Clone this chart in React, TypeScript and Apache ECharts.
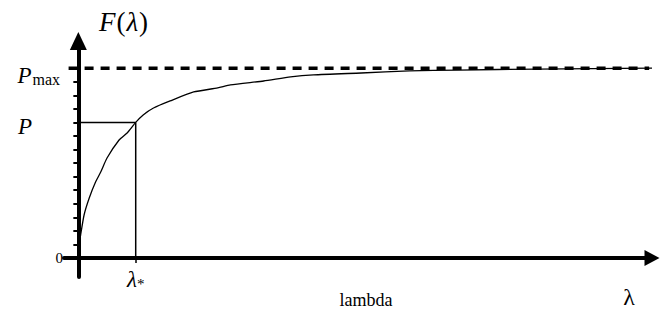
import React, { useEffect, useRef } from "react";
import * as echarts from "echarts";

// ---- data ----
const curveX = [0, 0.04, 0.1, 0.19, 0.3, 0.39, 0.5, 0.71, 0.85, 1.0, 1.13, 1.31, 1.6, 2.01, 2.43, 2.65, 3.23, 3.7, 4.1, 4.93, 5.77, 6.62, 8.0, 10.0];
const curveY = [0.6, 1.7, 3.17, 4.42, 5.6, 6.34, 7.37, 8.7, 9.22, 10.0, 10.55, 11.06, 11.58, 12.24, 12.54, 12.76, 13.05, 13.35, 13.5, 13.64, 13.79, 13.86, 13.93, 14.0];
const P_MAX = 14;
const P_VAL = 10;
const LAMBDA_STAR = 1;
const asymptoteX = [-0.17, 9.95];
const yTickValues = [1, 2, 3, 4, 5, 6, 7, 8, 9, 10, 11, 12, 13, 14];
const yLabelValues = [0, 10, 14];
const xLabelValues = [1];
const X_MIN = -0.25;
const X_MAX = 10;
const Y_MIN = -1.4;
const Y_MAX = 16;
const xAxisName = "lambda";
const yAxisTitle = "F(λ)";
const xEndLabel = "λ";

const SERIF = "'Liberation Serif', 'Times New Roman', serif";

export default function App() {
  const ref = useRef<HTMLDivElement>(null);
  useEffect(() => {
    if (!ref.current) return;
    const chart = echarts.init(ref.current, undefined, { renderer: "svg" });
    const black = "#000";
    chart.setOption({
      animation: false,
      backgroundColor: "#fff",
      grid: { left: 64, right: 8, top: 41, bottom: 37, containLabel: false, outerBoundsMode: "none" },
      xAxis: {
        type: "value",
        min: X_MIN,
        max: X_MAX,
        name: xAxisName,
        nameLocation: "middle",
        nameGap: 14,
        nameMoveOverlap: false,
        nameTextStyle: { fontFamily: SERIF, fontSize: 18, color: black, padding: [0, 0, 0, 16] },
        axisLine: {
          onZero: true,
          symbol: ["none", "triangle"],
          symbolSize: [16, 15],
          lineStyle: { color: black, width: 4 },
        },
        axisTick: { show: true, customValues: [LAMBDA_STAR], length: 5, lineStyle: { color: black, width: 1.5 } },
        axisLabel: {
          show: true,
          customValues: xLabelValues,
          margin: -9,
          formatter: () => "{lam|λ}{star|*}",
          rich: {
            lam: { fontFamily: SERIF, fontStyle: "italic", fontSize: 23, color: black, verticalAlign: "bottom" },
            star: { fontFamily: SERIF, fontSize: 15, color: black, verticalAlign: "bottom" },
          },
        },
        splitLine: { show: false },
      },
      yAxis: {
        type: "value",
        min: Y_MIN,
        max: Y_MAX,
        axisLine: {
          onZero: true,
          symbol: ["none", "triangle"],
          symbolSize: [17, 18],
          lineStyle: { color: black, width: 4 },
        },
        axisTick: { show: true, customValues: yTickValues, length: 5, lineStyle: { color: black, width: 2 } },
        axisLabel: {
          show: true,
          customValues: yLabelValues,
          margin: 1,
          fontFamily: SERIF,
          fontSize: 15,
          color: black,
          formatter: (v: number) => {
            if (v === P_MAX) return "{pm|P}{mx|max}";
            if (v === P_VAL) return "{pv|P}";
            return "{zero|0}";
          },
          rich: {
            zero: { fontFamily: SERIF, fontSize: 15, color: black },
            pv: { fontFamily: SERIF, fontStyle: "italic", fontSize: 23, color: black, padding: [8, 31, 0, 0] },
            pm: { fontFamily: SERIF, fontStyle: "italic", fontSize: 23, color: black, verticalAlign: "bottom", padding: [15, 0, 0, 0] },
            mx: { fontFamily: SERIF, fontSize: 16, color: black, verticalAlign: "bottom", padding: [0, 3, 0, 1] },
          },
        },
        splitLine: { show: false },
      },
      series: [
        {
          type: "line",
          data: curveX.map((x, i) => [x, curveY[i]]),
          showSymbol: false,
          smooth: 0.2,
          lineStyle: { color: black, width: 1.3 },
          z: 3,
        },
        {
          type: "line",
          data: asymptoteX.map((x) => [x, P_MAX]),
          showSymbol: false,
          lineStyle: { color: black, width: 3.5, type: [9, 7] },
          z: 4,
        },
        {
          type: "line",
          data: [[0, P_VAL], [LAMBDA_STAR, P_VAL]],
          showSymbol: false,
          lineStyle: { color: black, width: 1.5 },
        },
        {
          type: "line",
          data: [[LAMBDA_STAR, 0], [LAMBDA_STAR, P_VAL]],
          showSymbol: false,
          lineStyle: { color: black, width: 1.5 },
        },
      ],
      graphic: [
        {
          type: "text",
          x: 124,
          y: 22,
          style: {
            text: "{f|F}{b|(}{l|λ}{b|)}",
            align: "center",
            verticalAlign: "middle",
            rich: {
              f: { fontFamily: SERIF, fontStyle: "italic", fontSize: 27, fill: black },
              b: { fontFamily: SERIF, fontSize: 27, fill: black, padding: [0, 1, 0, 1] },
              l: { fontFamily: SERIF, fontStyle: "italic", fontSize: 27, fill: black },
            },
          },
        },
        {
          type: "text",
          x: 629,
          y: 297,
          style: {
            text: xEndLabel,
            align: "center",
            verticalAlign: "middle",
            fontFamily: SERIF,
            fontSize: 24,
            fill: black,
          },
        },
      ],
    });
    return () => chart.dispose();
  }, []);
  return (
    <div
      ref={ref}
      aria-label={yAxisTitle}
      style={{ position: "fixed", left: 0, top: 0, width: 660, height: 314, background: "#fff" }}
    />
  );
}
